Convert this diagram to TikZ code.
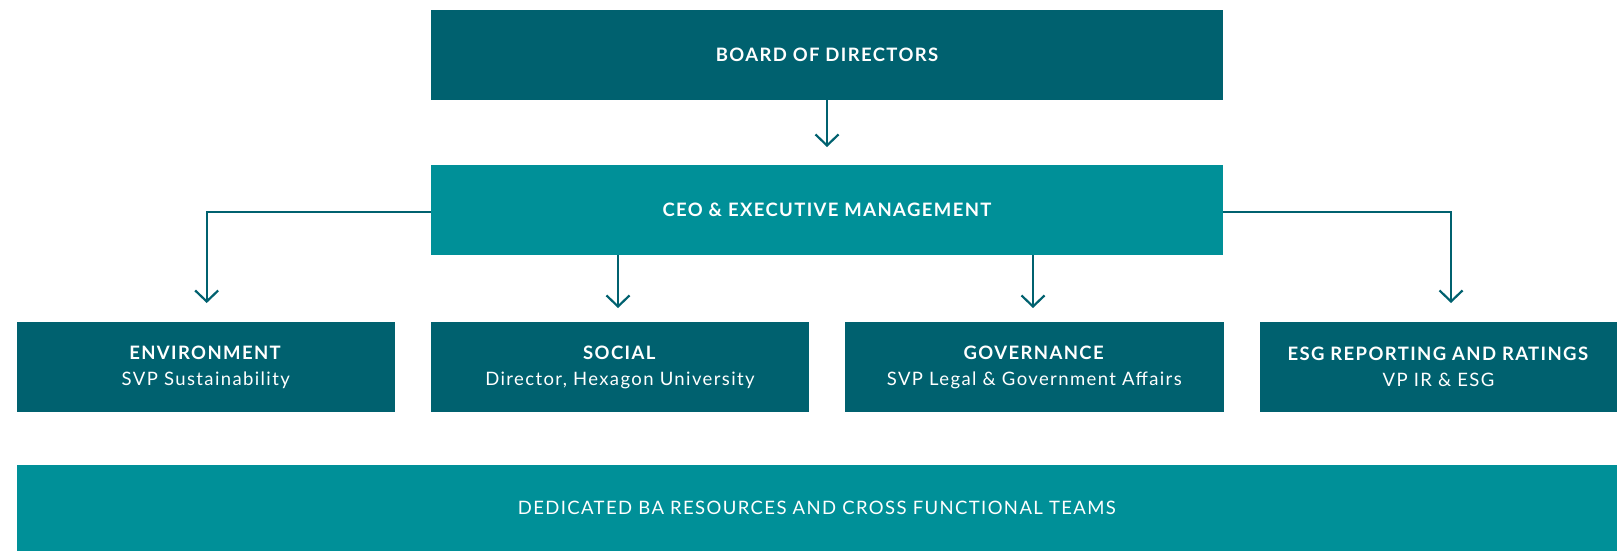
\documentclass[tikz,border=0pt]{standalone}
\usepackage{fontspec}
\setmainfont{Lato}
\usetikzlibrary{arrows.meta}
\definecolor{darkteal}{HTML}{00616F}
\definecolor{lightteal}{HTML}{009098}
\begin{document}
\begin{tikzpicture}[x=1pt,y=-1pt,
  box/.style={rectangle, inner sep=0pt, text=white, align=center, font=\fontsize{18.5}{26}\selectfont\addfontfeatures{LetterSpace=7.5}},
  darkbox/.style={box, fill=darkteal},
  lightbox/.style={box, fill=lightteal},
  conn/.style={draw=darkteal, line width=2.2pt, -{Straight Barb[length=11pt,width=23pt,line width=2.2pt]}}]
\useasboundingbox[fill=white] (0,0) rectangle (1617,551);
\node[darkbox, minimum width=792pt, minimum height=90pt] (board) at (827,55) {\bfseries BOARD OF DIRECTORS};
\node[lightbox, minimum width=792pt, minimum height=90pt] (ceo) at (827,210) {\bfseries CEO \& EXECUTIVE MANAGEMENT};
\node[darkbox, minimum width=378.5pt, minimum height=90.5pt] (env) at (205.75,367) {\textbf{ENVIRONMENT}\\SVP Sustainability};
\node[darkbox, minimum width=378.5pt, minimum height=90.5pt] (soc) at (620,367) {\textbf{SOCIAL}\\Director, Hexagon University};
\node[darkbox, minimum width=379.4pt, minimum height=90.5pt] (gov) at (1034.3,367) {\textbf{GOVERNANCE}\\SVP Legal \& Government Affairs};
\node[darkbox, minimum width=357pt, minimum height=90.5pt] (esg) at (1438.5,367) {\textbf{ESG REPORTING AND RATINGS}\\VP IR \& ESG};
\node[lightbox, minimum width=1600.5pt, minimum height=86pt] (teams) at (816.75,508) {DEDICATED BA RESOURCES AND CROSS FUNCTIONAL TEAMS};
\coordinate (aboard) at (827,147);
\coordinate (aenv) at (206.7,303);
\coordinate (asoc) at (618,308);
\coordinate (agov) at (1033,308);
\coordinate (aesg) at (1451,303);
\draw[conn] (board.south -| aboard) -- (aboard);
\draw[conn] (ceo.west |- 0,211.7) -| (aenv);
\draw[conn] (ceo.south -| asoc) -- (asoc);
\draw[conn] (ceo.south -| agov) -- (agov);
\draw[conn] (ceo.east |- 0,211.7) -| (aesg);
\end{tikzpicture}
\end{document}
